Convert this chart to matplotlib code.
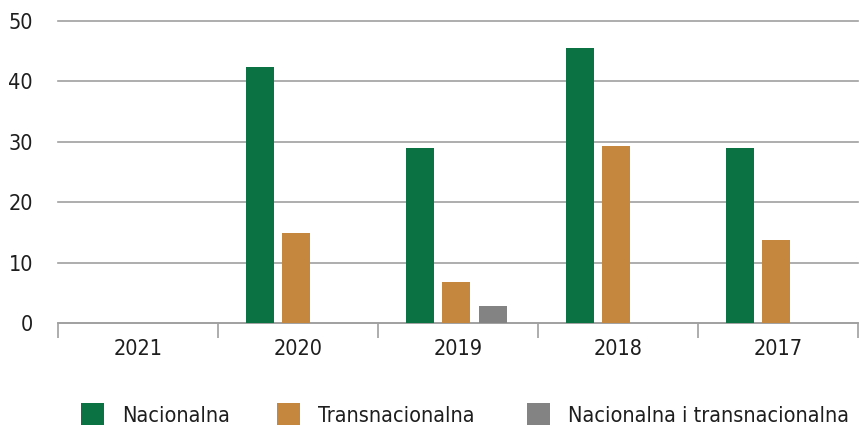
import numpy as np
import matplotlib
matplotlib.use("Agg")
import matplotlib.pyplot as plt
from matplotlib import font_manager
from matplotlib.patches import Rectangle

# uzi font ako postoji
condensed = any(f.name == 'DejaVu Sans' and f.stretch == 'condensed'
                for f in font_manager.fontManager.ttflist)
plt.rcParams['font.family'] = ['DejaVu Sans']
if condensed:
    plt.rcParams['font.stretch'] = 'condensed'
    fs = 15.5
else:
    fs = 13.5

# podaci
godine = ['2021', '2020', '2019', '2018', '2017']
nacionalna = [0, 42.4, 29.0, 45.5, 29.0]
transnacionalna = [0, 14.9, 6.8, 29.3, 13.7]
nac_i_trans = [0, 0, 2.8, 0, 0]
serije = ['Nacionalna', 'Transnacionalna', 'Nacionalna i transnacionalna']
boje = ['#0b7343', '#c4873d', '#838383']
tekst_boja = '#1e1e1e'

W, H = 860, 426
fig = plt.figure(figsize=(W / 100, H / 100), dpi=100)
ax = fig.add_axes([58 / W, 103 / H, 800 / W, 302 / H])

x = np.arange(len(godine))
w = 0.175
step = 0.23
for i, (vals, c) in enumerate(zip([nacionalna, transnacionalna, nac_i_trans], boje)):
    ax.bar(x + (i - 1) * step - 0.01, vals, width=w, color=c, zorder=3)

ax.set_xlim(-0.5, len(godine) - 0.5)
ax.set_ylim(0, 50)
ax.set_yticks(range(0, 51, 10))
ax.yaxis.grid(True, color='#a0a0a0', linewidth=1.2, zorder=0)
for gl in ax.get_ygridlines():
    gl.set_clip_on(False)
for s in ['top', 'right', 'left']:
    ax.spines[s].set_visible(False)
ax.spines['bottom'].set_color('#a0a0a0')
ax.spines['bottom'].set_linewidth(1.2)

ax.set_xticks(x)
ax.set_xticklabels(godine)
ax.set_xticks(np.arange(-0.5, len(godine), 1), minor=True)
ax.tick_params(axis='x', which='major', length=0, pad=11.5, labelsize=fs, colors=tekst_boja)
ax.tick_params(axis='x', which='minor', length=11, width=1.2, color='#a0a0a0')
ax.tick_params(axis='y', length=0, pad=18, labelsize=fs, colors=tekst_boja)

# legenda rucno
kv_x = [81, 277, 527]
txt_x = [122, 318, 568]
for kx, tx, c, lab in zip(kv_x, txt_x, boje, serije):
    fig.patches.append(Rectangle((kx / W, (H - 425) / H), 23 / W, 22 / H,
                                 transform=fig.transFigure, facecolor=c, edgecolor='none'))
    fig.text(tx / W, (H - 422) / H, lab, fontsize=fs, color=tekst_boja,
             ha='left', va='baseline')

fig.savefig('out.png', dpi=100)
